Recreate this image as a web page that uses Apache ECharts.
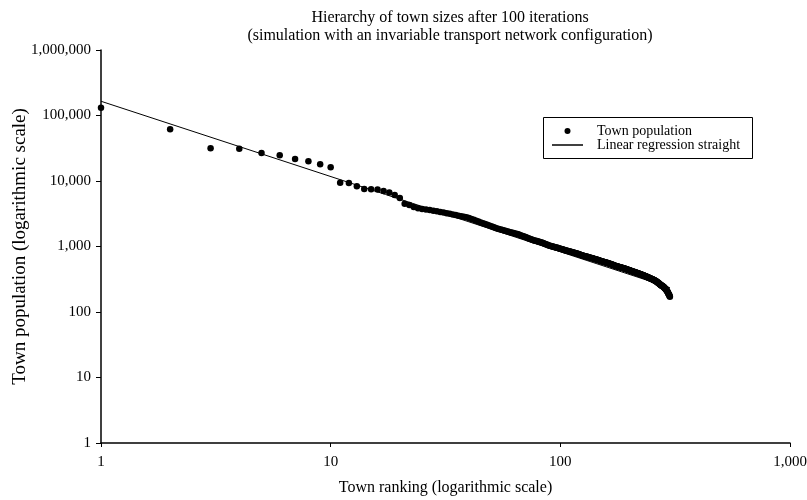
<!DOCTYPE html>
<html>
<head>
<meta charset="utf-8">
<script src="https://cdn.jsdelivr.net/npm/echarts@6/dist/echarts.min.js"></script>
<style>
html,body{margin:0;padding:0;background:#fff;}
#chart{width:807px;height:500px;}
</style>
</head>
<body>
<div id="chart"></div>
<script>
// Town populations by rank (rank = position in list, starting at 1)
var populations = [
  131000, 61500, 31600, 31000, 26700, 24700, 21700, 20000, 18000, 16200,
  9400, 9300, 8300, 7550, 7450, 7400, 7030, 6700, 6100, 5500,
  4500, 4300, 4000, 3850, 3750, 3680, 3600, 3520, 3450, 3370,
  3290, 3210, 3150, 3090, 3030, 2960, 2900, 2840, 2790, 2720,
  2640, 2560, 2480, 2400, 2330, 2260, 2200, 2140, 2090, 2040,
  1990, 1940, 1890, 1850, 1810, 1780, 1750, 1720, 1700, 1670,
  1640, 1620, 1595, 1570, 1550, 1520, 1490, 1460, 1440, 1410,
  1380, 1350, 1330, 1300, 1280, 1257, 1240, 1225, 1210, 1195,
  1180, 1165, 1150, 1130, 1110, 1095, 1075, 1060, 1040, 1025,
  1015, 1004, 996, 985, 976, 964, 955, 946, 934, 925,
  916, 904, 896, 887, 877, 869, 860, 852, 846, 838,
  830, 824, 815, 809, 802, 793, 787, 781, 772, 765,
  759, 750, 744, 735, 729, 721, 716, 712, 705, 701,
  696, 689, 685, 681, 674, 670, 666, 659, 655, 651,
  644, 640, 636, 629, 625, 621, 614, 610, 605, 601,
  598, 592, 589, 586, 580, 577, 575, 569, 566, 563,
  557, 554, 551, 545, 542, 539, 533, 530, 527, 521,
  518, 515, 509, 506, 503, 499, 496, 494, 490, 488,
  486, 482, 480, 477, 474, 472, 469, 466, 464, 461,
  458, 456, 453, 450, 447, 445, 442, 439, 436, 434,
  431, 428, 425, 423, 420, 417, 415, 412, 410, 408,
  405, 403, 401, 399, 396, 394, 392, 390, 387, 385,
  383, 381, 378, 376, 374, 372, 369, 367, 365, 363,
  360, 358, 356, 354, 351, 349, 347, 345, 342, 340,
  338, 336, 333, 331, 329, 327, 325, 323, 321, 319,
  317, 315, 313, 311, 309, 306, 304, 302, 299, 297,
  294, 292, 289, 286, 283, 281, 278, 275, 272, 269,
  266, 263, 260, 257, 256, 253, 251, 249, 247, 245,
  243, 240, 237, 234, 231, 228, 225, 222, 218, 214,
  211, 207, 203, 198, 193, 189, 185, 181, 176, 171
];
// Regression line end points (rank, population)
var regressionRanks = [1, 300];
var regressionValues = [165000, 235];

var xTicks = [1, 10, 100, 1000];
var yTicks = [1, 10, 100, 1000, 10000, 100000, 1000000];

var titleText = 'Hierarchy of town sizes after 100 iterations\n(simulation with an invariable transport network configuration)';
var xName = 'Town ranking (logarithmic scale)';
var yName = 'Town population (logarithmic scale)';
var seriesNames = ['Town population', 'Linear regression straight'];

var FONT = "'Liberation Serif', 'Times New Roman', serif";

var scatterData = populations.map(function (v, i) { return [i + 1, v]; });
var lineData = regressionRanks.map(function (r, i) { return [r, regressionValues[i]]; });

function fmt(v) {
  var n = Math.round(v);
  return n.toLocaleString('en-US');
}

var chart = echarts.init(document.getElementById('chart'), null, {renderer: 'canvas'});
chart.setOption({
  backgroundColor: '#fff',
  animation: false,
  title: {
    text: titleText,
    left: 450,
    top: 9,
    padding: 0,
    textAlign: 'center',
    textStyle: {fontFamily: FONT, fontSize: 16, fontWeight: 'normal', color: '#000', lineHeight: 18}
  },
  grid: {left: 101, right: 17, top: 50, bottom: 57, containLabel: false, outerBoundsMode: 'none'},
  legend: {
    orient: 'vertical',
    left: 552,
    top: 124,
    padding: 0,
    itemWidth: 31,
    itemHeight: 6,
    itemGap: 0,
    selectedMode: false,
    textStyle: {fontFamily: FONT, fontSize: 14, color: '#000', lineHeight: 13, padding: [0, 0, 0, 9]},
    data: [
      {name: seriesNames[0], icon: 'circle'},
      {name: seriesNames[1], icon: 'path://M0 0H62V3H0Z'}
    ]
  },
  graphic: [{
    type: 'rect',
    shape: {x: 543.5, y: 117.5, width: 209, height: 41},
    style: {fill: 'none', stroke: '#000', lineWidth: 1},
    z: -1
  }],
  xAxis: {
    type: 'log',
    logBase: 10,
    min: xTicks[0],
    max: xTicks[xTicks.length - 1],
    interval: 1,
    name: xName,
    nameLocation: 'middle',
    nameGap: 37,
    nameMoveOverlap: false,
    nameTextStyle: {fontFamily: FONT, fontSize: 16, color: '#000'},
    axisLine: {show: true, lineStyle: {color: '#000', width: 1.5}},
    axisTick: {show: true, length: 4, lineStyle: {color: '#000'}},
    minorTick: {show: false},
    splitLine: {show: false},
    axisLabel: {fontFamily: FONT, fontSize: 15, color: '#000', margin: 12, formatter: fmt}
  },
  yAxis: {
    type: 'log',
    logBase: 10,
    min: yTicks[0],
    max: yTicks[yTicks.length - 1],
    interval: 1,
    name: yName,
    nameLocation: 'middle',
    nameGap: 71,
    nameMoveOverlap: false,
    nameTextStyle: {fontFamily: FONT, fontSize: 19, color: '#000'},
    axisLine: {show: true, lineStyle: {color: '#000', width: 1.5}},
    axisTick: {show: true, length: 5, lineStyle: {color: '#000'}},
    minorTick: {show: false},
    splitLine: {show: false},
    axisLabel: {fontFamily: FONT, fontSize: 15, color: '#000', margin: 10, formatter: fmt}
  },
  series: [
    {
      name: seriesNames[0],
      type: 'scatter',
      data: scatterData,
      symbol: 'circle',
      symbolSize: 6.5,
      itemStyle: {color: '#000', opacity: 1}
    },
    {
      name: seriesNames[1],
      type: 'line',
      data: lineData,
      symbol: 'none',
      lineStyle: {color: '#000', width: 1},
      itemStyle: {color: '#000'}
    }
  ]
});
</script>
</body>
</html>
